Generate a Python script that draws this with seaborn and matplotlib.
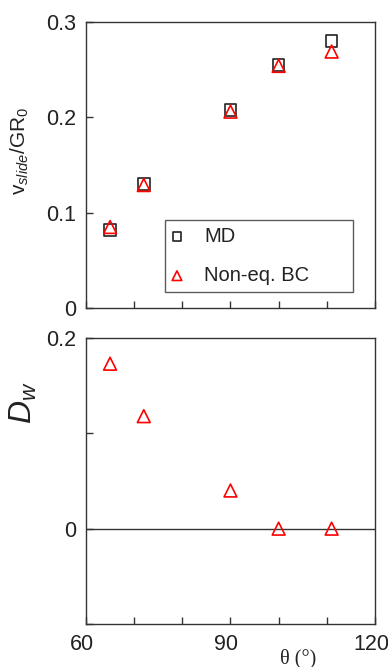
import matplotlib
matplotlib.use("Agg")
import matplotlib.pyplot as plt
import matplotlib.transforms as mtransforms
import seaborn as sns
import pandas as pd

sns.set_style("white")
plt.rcParams['font.family'] = ['Liberation Sans', 'DejaVu Sans']
plt.rcParams['mathtext.fontset'] = 'custom'
plt.rcParams['mathtext.rm'] = 'Liberation Sans'
plt.rcParams['mathtext.it'] = 'Liberation Sans:italic'

# data
theta = [65, 72, 90, 100, 111]
v_md = [0.082, 0.130, 0.208, 0.255, 0.280]
v_bc = [0.085, 0.129, 0.206, 0.254, 0.269]
dw_bc = [0.173, 0.118, 0.040, 0.000, 0.000]

x_ticks = [60, 70, 80, 90, 100, 110, 120]
x_ticklabels = ['60', '', '', '90', '', '', '120']
top_yticks = [0, 0.1, 0.2, 0.3]
top_yticklabels = ['0', '0.1', '0.2', '0.3']
bot_yticks = [-0.1, 0, 0.1, 0.2]
bot_yticklabels = ['', '0', '', '0.2']

df_md = pd.DataFrame({'theta': theta, 'v': v_md})
df_bc = pd.DataFrame({'theta': theta, 'v': v_bc})
df_dw = pd.DataFrame({'theta': theta, 'dw': dw_bc})

fig = plt.figure(figsize=(3.88, 6.67), dpi=100)
ax1 = fig.add_axes([0.2216, 0.5382, 0.7448, 0.4288])
ax2 = fig.add_axes([0.2216, 0.0645, 0.7448, 0.4288])

black = '#222222'
red = '#ff0000'

sns.scatterplot(data=df_md, x='theta', y='v', ax=ax1, marker='s', s=70,
                facecolor='none', edgecolor=black, linewidth=1.2, label='MD', zorder=3)
sns.scatterplot(data=df_bc, x='theta', y='v', ax=ax1, marker='^', s=85,
                facecolor='none', edgecolor=red, linewidth=1.2, label='Non-eq. BC', zorder=4)
sns.scatterplot(data=df_dw, x='theta', y='dw', ax=ax2, marker='^', s=85,
                facecolor='none', edgecolor=red, linewidth=1.2, zorder=4)
ax2.axhline(0, color='#333333', lw=1.0, zorder=1)

for ax in (ax1, ax2):
    ax.set_xlim(60, 120)
    ax.set_xticks(x_ticks)
    for sp in ax.spines.values():
        sp.set_color('#333333')
        sp.set_linewidth(1.0)
    ax.tick_params(direction='in', length=5, width=1, color='#333333',
                   labelsize=15.5, labelcolor='#222222', bottom=True, left=True, pad=7)
    ax.set_xlabel('')
    ax.set_ylabel('')

ax1.set_xticklabels([])
ax1.set_ylim(0, 0.3)
ax1.set_yticks(top_yticks)
ax1.set_yticklabels(top_yticklabels)

ax2.set_xticklabels(x_ticklabels)
ax2.set_ylim(-0.1, 0.2)
ax2.set_yticks(bot_yticks)
ax2.set_yticklabels(bot_yticklabels)

# shift x tick labels slightly left, as in the reference
shift = mtransforms.ScaledTranslation(-4 / 100, 0, fig.dpi_scale_trans)
for lbl in ax2.get_xticklabels():
    lbl.set_transform(lbl.get_transform() + shift)

ax1.set_ylabel(r'$\mathrm{v}_{slide}/\mathrm{GR}_0$', fontsize=15, color='#222222')
ax1.yaxis.set_label_coords(-0.19, 0.55)
ax2.set_ylabel(r'$D_w$', fontsize=23, color='#222222')
ax2.yaxis.set_label_coords(-0.162, 0.773)
ax2.text(0.733, -0.12, 'θ (°)', transform=ax2.transAxes, ha='center', va='center',
         fontsize=14.5, family=['Liberation Serif', 'DejaVu Serif'], color='#222222')

leg = ax1.legend(loc='lower left', bbox_to_anchor=(0.273, 0.056, 0.651, 0.255),
                 mode='expand', borderaxespad=0, fontsize=14.5, markerscale=0.75,
                 frameon=True, fancybox=False, borderpad=0.35, labelspacing=1.0,
                 handletextpad=1.1, handlelength=0.5)
leg.get_frame().set_edgecolor('#333333')
leg.get_frame().set_linewidth(1.0)
for t in leg.get_texts():
    t.set_color('#222222')

fig.savefig('out.png', dpi=100)
